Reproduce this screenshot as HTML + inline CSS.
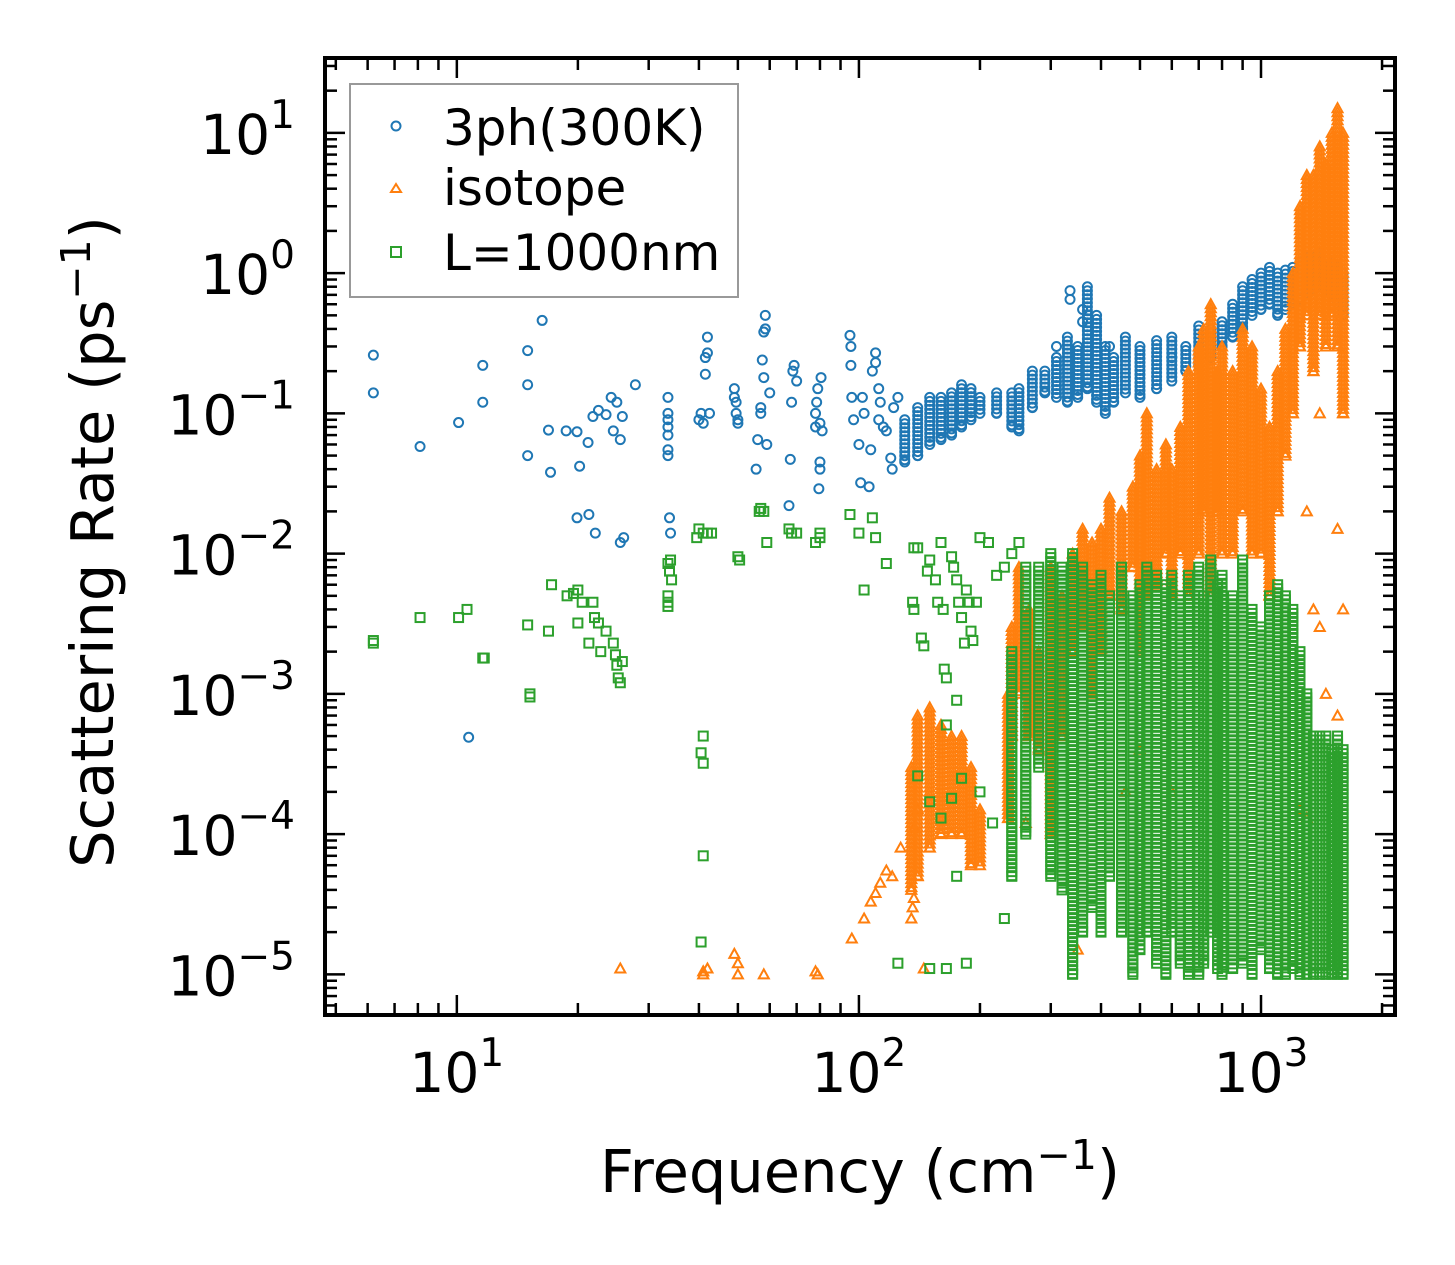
<!DOCTYPE html>
<html><head><meta charset="utf-8"><style>
html,body{margin:0;padding:0;background:#fff}
svg{display:block;font-family:"DejaVu Sans","Liberation Sans",sans-serif}
</style></head><body>
<svg id="chart" width="1455" height="1265" viewBox="0 0 1455 1265" xmlns="http://www.w3.org/2000/svg">
<rect width="1455" height="1265" fill="#fff"/>
<g id="marks"></g>
<g id="axes"></g>
<g id="legend">
<rect x="350" y="84" width="388" height="213" fill="#fff" stroke="#999" stroke-width="2"/>
<circle cx="396" cy="126" r="4.5" fill="none" stroke="#1f77b4" stroke-width="2"/>
<text x="443" y="145" font-size="50">3ph(300K)</text>
<path d="M396,184 L401,192 L391,192 Z" fill="none" stroke="#ff7f0e" stroke-width="2"/>
<text x="443" y="205" font-size="50">isotope</text>
<rect x="391" y="247" width="10" height="10" fill="none" stroke="#2ca02c" stroke-width="2"/>
<text x="443" y="270" font-size="50">L=1000nm</text>
</g>
<text x="860" y="1192" font-size="59" text-anchor="middle">Frequency (cm<tspan font-size="41" dy="-23">−1</tspan><tspan dy="23">)</tspan></text>
<text transform="translate(113,542) rotate(-90)" font-size="59" text-anchor="middle">Scattering Rate (ps<tspan font-size="41" dy="-23">−1</tspan><tspan dy="23">)</tspan></text>
</svg>
<script>
// ---- data ----
const blueSparse = [[6.2,0.26],[6.2,0.14],[8.1,0.058],[10.1,0.086],[10.7,0.00049],[11.6,0.22],[11.6,0.12],[15,0.28],[15,0.16],[15,0.05],[16.3,0.46],[16.9,0.076],[17.1,0.038],[18.7,0.075],[19.9,0.074],[20.2,0.042],[19.9,0.018],[21.3,0.019],[21.2,0.062],[21.8,0.095],[22.5,0.105],[22.1,0.014],[23.5,0.098],[24.2,0.13],[24.5,0.075],[25,0.12],[25.5,0.065],[25.5,0.012],[26,0.013],[25.8,0.095],[27.8,0.16],
[33.5,0.13],[33.5,0.1],[33.5,0.09],[33.5,0.08],[33.5,0.07],[33.5,0.055],[33.5,0.05],[33.8,0.018],[34,0.014],
[40,0.09],[40.5,0.1],[41,0.085],[41.5,0.25],[41.5,0.19],[42,0.35],[42,0.27],[42.5,0.1],
[49,0.15],[49,0.13],[49.5,0.12],[49.5,0.1],[50,0.085],[50,0.09],
[55.5,0.04],[56,0.065],[57,0.1],[57,0.11],[57.5,0.24],[58,0.18],[58,0.38],[58.5,0.5],[58.5,0.4],[59,0.06],[60,0.14],
[67,0.022],[67.5,0.047],[68,0.12],[68.5,0.2],[69,0.22],[70,0.17],
[78,0.08],[78,0.1],[78.5,0.12],[79,0.15],[79.5,0.029],[80,0.045],[80,0.04],[80.5,0.18],[80,0.085],[81,0.075],
[95,0.36],[95.5,0.3],[95.5,0.22],[96,0.13],[97,0.09],[100,0.06],[101,0.032],[102,0.13],[103,0.1],[106,0.03],[107,0.055],[108,0.2],[110,0.27],[110,0.23],[112,0.15],[113,0.12],[112,0.09],[115,0.08],[117,0.075],[120,0.048],[121,0.04],[122,0.11],[125,0.13],
[335,0.75],[335,0.65],[360,0.55],[360,0.45],[310,0.3],[420,0.3],[600,0.25]];
const blueFreq = [130,140,150,160,170,180,190,200,220,240,250,270,290,310,330,350,370,390,410,430,460,500,550,600,650,700,750,800,850,900,950,1000,1050,1100,1150,1200,1250,1300,1350,1400,1450,1500,1550,1600];
const blueLo   = [0.045,0.05,0.06,0.065,0.07,0.08,0.09,0.1,0.1,0.08,0.075,0.11,0.14,0.13,0.12,0.13,0.15,0.12,0.1,0.12,0.14,0.13,0.15,0.17,0.2,0.22,0.25,0.3,0.35,0.4,0.5,0.55,0.6,0.5,0.55,0.6,0.65,0.7,0.75,0.8,0.75,0.7,0.6,0.5];
const blueHi   = [0.09,0.11,0.13,0.13,0.14,0.16,0.15,0.13,0.14,0.14,0.15,0.2,0.2,0.25,0.35,0.3,0.8,0.5,0.3,0.25,0.35,0.3,0.33,0.35,0.3,0.42,0.4,0.45,0.6,0.8,0.9,1.0,1.1,1.0,1.05,1.1,1.2,1.3,1.3,1.4,1.3,1.2,1.1,1.0];

const orangeSparse = [[25.5,1.1e-5],[41,1.05e-5],[41,1e-5],[42,1.1e-5],[49,1.4e-5],[50,1.2e-5],[50,1e-5],[58,1e-5],[78,1.05e-5],[79,1e-5],[96,1.8e-5],[103,2.5e-5],[107,3.3e-5],[110,3.8e-5],[113,4.5e-5],[117,5.5e-5],[121,5e-5],[127,8e-5],[135,2.5e-5],[136,3e-5],[137,1.1e-4],[140,1.5e-4],[145,1.1e-5],[137,3.5e-5],
[1300,0.02],[1350,0.004],[1400,0.003],[1450,0.001],[1550,0.0007],[1600,0.004],[1550,0.015],[1400,0.1],[1300,1.3e-4],[1250,1.5e-4],[460,2e-4],[600,2e-4],[500,4e-4],[350,1.5e-5],[300,1e-4],[260,1.2e-4]];
const orangeFreq = [135,140,150,160,170,180,190,200,235,240,250,265,280,300,320,340,360,380,400,420,450,480,500,520,550,580,600,630,660,700,720,750,780,800,850,900,950,1000,1050,1100,1150,1200,1250,1300,1350,1400,1450,1500,1550,1600];
const orangeLo   = [4e-5,5e-5,8e-5,1e-4,1e-4,1e-4,6e-5,6e-5,1.3e-4,5e-4,1e-3,5e-4,4e-4,1e-4,5e-4,2e-3,3e-3,1e-3,2e-3,5e-3,4e-3,8e-3,2e-3,5e-3,6e-3,1e-2,5e-3,1e-2,5e-3,1e-2,2e-2,5e-3,2e-2,1e-2,1e-2,2e-2,1e-2,1e-2,5e-3,2e-2,5e-2,0.1,0.3,0.5,0.2,0.5,0.3,0.5,0.3,0.1];
const orangeHi   = [3e-4,7e-4,8e-4,6e-4,5e-4,5e-4,3e-4,1.5e-4,1e-3,3e-3,8e-3,4e-3,2e-3,8e-3,5e-3,1e-2,1.5e-2,1.2e-2,1.5e-2,2.5e-2,2e-2,3e-2,5e-2,0.1,4e-2,6e-2,4e-2,8e-2,0.2,0.3,0.4,0.6,0.2,0.3,0.2,0.4,0.3,0.15,0.08,0.2,0.4,1.0,3,5,5,8,6,10,15,10];

const greenSparse = [[6.2,0.0024],[6.2,0.0023],[8.1,0.0035],[10.1,0.0035],[10.6,0.004],[11.6,0.0018],[11.7,0.0018],[15,0.0031],[15.2,0.001],[15.2,0.00095],[16.9,0.0028],[17.2,0.006],[18.8,0.005],[19.5,0.0052],[20,0.0055],[20,0.0032],[20.5,0.0045],[21.3,0.0023],[21.8,0.0045],[22,0.0035],[22.5,0.0032],[22.8,0.002],[23.5,0.0028],[24.5,0.0023],[24.8,0.0019],[25,0.0016],[25.2,0.0013],[25.5,0.0012],[25.8,0.0017],
[33.5,0.0045],[33.5,0.0042],[33.5,0.005],[33.5,0.0085],[33.8,0.0075],[34,0.009],[34.2,0.0065],[39.5,0.013],[40,0.015],[41,0.014],[42,0.014],[43,0.014],[41,0.0005],[40.5,0.00038],[41,0.00032],[41,7e-5],[40.5,1.7e-5],
[50,0.0095],[50.5,0.009],[56.5,0.02],[57,0.021],[58,0.02],[59,0.012],[67,0.015],[68,0.014],[70,0.014],[78,0.012],[80,0.013],[80,0.014],[95,0.019],[100,0.014],[103,0.0055],[108,0.018],[110,0.013],[117,0.0085],[125,1.2e-5],[137,0.011],[136,0.0045],[137,0.004],[140,0.011],[143,0.0025],[145,0.0022],[148,0.0075],[150,0.009],[155,0.0065],[157,0.0045],[160,0.012],[162,0.004],[163,0.0015],[165,0.0013],[165,0.0006],[170,0.0095],[172,0.008],[175,0.0065],[177,0.0045],[180,0.0035],[183,0.0023],[185,0.0055],[188,0.0045],[190,0.0028],[192,0.0024],[196,0.0045],[200,0.013],[210,0.012],[220,0.007],[230,0.008],[240,0.01],[250,0.012],[150,1.1e-5],[165,1.1e-5],[185,1.2e-5],[160,1.3e-4],[150,1.7e-4],[175,5e-5],[180,2.5e-4],[170,1.8e-4],[140,2.6e-4],[175,9e-4],[230,2.5e-5],[200,2e-4],[215,1.2e-4]];
const greenFreq = [240,260,280,300,320,340,360,380,400,420,450,480,500,520,550,580,600,630,660,700,720,750,780,800,850,900,950,1000,1050,1100,1150,1200,1250,1300,1350,1400,1450,1500,1550,1600];
const greenLo   = [5e-5,1e-4,3e-4,5e-5,4e-5,1e-5,2e-5,3e-5,2e-5,5e-5,2e-5,1e-5,1.5e-5,2e-5,1.2e-5,1e-5,2e-5,1.2e-5,1e-5,1e-5,1.2e-5,2e-5,1.1e-5,1e-5,1.1e-5,1.2e-5,1e-5,1.5e-5,1.1e-5,1e-5,1e-5,1.1e-5,1e-5,1e-5,1e-5,1e-5,1e-5,1e-5,1e-5,1e-5];
const greenHi   = [2e-3,8e-3,8e-3,1e-2,8e-3,1e-2,8e-3,6e-3,7e-3,5e-3,8e-3,5e-3,6e-3,8e-3,7e-3,6e-3,7e-3,5e-3,7e-3,8e-3,5e-3,9e-3,6e-3,7e-3,5e-3,9e-3,4e-3,3e-3,5e-3,6e-3,5e-3,4e-3,2e-3,1e-3,5e-4,5e-4,5e-4,4e-4,5e-4,4e-4];

const xTickVals = [10,100,1000];
const xTickExp = ['1','2','3'];
const yTickVals = [10,1,0.1,0.01,0.001,1e-4,1e-5];
const yTickExp = ['1','0','−1','−2','−3','−4','−5'];

// ---- scales ----
const X0=325,X1=1395,Y0=58,Y1=1015;
const xLogMin=Math.log10(4.7), xLogMax=Math.log10(2154);
const yLogMin=-5.29, yLogMax=1.534;
const sx=f=>X0+(Math.log10(f)-xLogMin)/(xLogMax-xLogMin)*(X1-X0);
const sy=v=>Y1-(Math.log10(v)-yLogMin)/(yLogMax-yLogMin)*(Y1-Y0);
const NS='http://www.w3.org/2000/svg';
const marks=document.getElementById('marks');
const axes=document.getElementById('axes');
const colors={blue:'#1f77b4',orange:'#ff7f0e',green:'#2ca02c'};

function marker(kind,x,y,name){
  let el;
  if(kind==='blue'){el=document.createElementNS(NS,'circle');el.setAttribute('cx',x);el.setAttribute('cy',y);el.setAttribute('r',4.5);}
  else if(kind==='orange'){el=document.createElementNS(NS,'path');el.setAttribute('d',`M${x},${y-5}L${x+5},${y+4}L${x-5},${y+4}Z`);}
  else {el=document.createElementNS(NS,'rect');el.setAttribute('x',x-4.5);el.setAttribute('y',y-4.5);el.setAttribute('width',9);el.setAttribute('height',9);}
  el.setAttribute('fill','none');el.setAttribute('stroke',colors[kind]);el.setAttribute('stroke-width',2);
  
  
  marks.appendChild(el);
}
function drawSeries(kind,sparse,freq,lo,hi){
  sparse.forEach(p=>marker(kind,sx(p[0]),sy(p[1]),kind+'-point'));
  freq.forEach((f,i)=>{
    const x=sx(f), ya=sy(hi[i]), yb=sy(lo[i]);
    for(let y=ya;y<=yb;y+=4){
      marker(kind,x,y,kind+'-point');
    }
    marker(kind,x,yb,kind+'-point');
  });
}
drawSeries('blue',blueSparse,blueFreq,blueLo,blueHi);
drawSeries('orange',orangeSparse,orangeFreq,orangeLo,orangeHi);
drawSeries('green',greenSparse,greenFreq,greenLo,greenHi);

// ---- axes ----
function line(x1,y1,x2,y2,w,name){
  const l=document.createElementNS(NS,'line');
  l.setAttribute('x1',x1);l.setAttribute('y1',y1);l.setAttribute('x2',x2);l.setAttribute('y2',y2);
  l.setAttribute('stroke','#000');l.setAttribute('stroke-width',w);
  
  
  axes.appendChild(l);
}
for(let e=0;e<=3;e++)for(let m=2;m<=9;m++){
  const f=m*Math.pow(10,e); const x=sx(f);
  if(x<X0||x>X1)continue;
  line(x,Y1,x,Y1-12,2.5,'x-minor-tick');line(x,Y0,x,Y0+12,2.5,'x-minor-tick');
}
for(let e=-6;e<=1;e++)for(let m=2;m<=9;m++){
  const v=m*Math.pow(10,e); const y=sy(v);
  if(y<Y0||y>Y1)continue;
  line(X0,y,X0+12,y,2.5,'y-minor-tick');line(X1,y,X1-12,y,2.5,'y-minor-tick');
}
xTickVals.forEach((v,i)=>{
  const x=sx(v);
  line(x,Y1,x,Y1-20,2.5,'x-major-tick');line(x,Y0,x,Y0+20,2.5,'x-major-tick');
  const t=document.createElementNS(NS,'text');
  t.setAttribute('x',x);t.setAttribute('y',Y1+77);t.setAttribute('font-size',55);t.setAttribute('text-anchor','middle');
  t.innerHTML=`10<tspan font-size="39" dy="-26">${xTickExp[i]}</tspan>`;
  
  
  axes.appendChild(t);
});
yTickVals.forEach((v,i)=>{
  const y=sy(v);
  line(X0,y,X0+20,y,2.5,'y-major-tick');line(X1,y,X1-20,y,2.5,'y-major-tick');
  const t=document.createElementNS(NS,'text');
  t.setAttribute('x',295);t.setAttribute('y',y+21);t.setAttribute('font-size',55);t.setAttribute('text-anchor','end');
  t.innerHTML=`10<tspan font-size="39" dy="-26">${yTickExp[i]}</tspan>`;
  
  
  axes.appendChild(t);
});
const frame=document.createElementNS(NS,'rect');
frame.setAttribute('x',X0);frame.setAttribute('y',Y0);frame.setAttribute('width',X1-X0);frame.setAttribute('height',Y1-Y0);
frame.setAttribute('fill','none');frame.setAttribute('stroke','#000');frame.setAttribute('stroke-width',4);


axes.appendChild(frame);
</script>
</body></html>
